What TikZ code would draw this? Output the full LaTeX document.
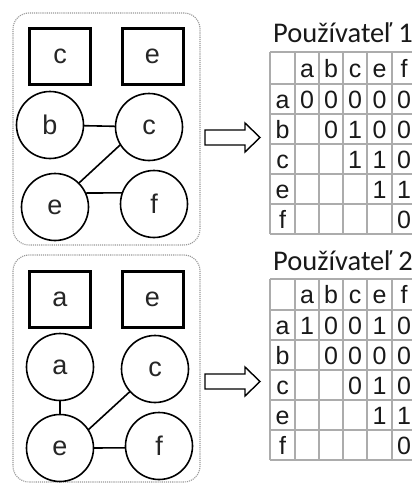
\documentclass[tikz,border=0pt]{standalone}
\usepackage{fontspec}
\setmainfont{Liberation Sans}
\newfontfamily\titlefont{Carlito}
\begin{document}
\begin{tikzpicture}[x=1pt,y=-1pt,
  circ/.style={circle,draw=black,line width=1.6pt,minimum size=67pt,inner sep=0pt,text=black!85,font=\fontsize{27}{27}\selectfont},
  sq/.style={rectangle,draw=black,line width=3pt,minimum width=61pt,minimum height=56pt,inner sep=0pt,text=black!85,font=\fontsize{27}{27}\selectfont},
  conn/.style={line width=1.6pt,shorten <=-0.5pt,shorten >=-0.5pt},
  panel/.style={draw=gray!80,densely dotted,line width=1.1pt,rounded corners=16pt},
  gridln/.style={draw=gray!65,line width=1.7pt},
  cell/.style={anchor=base,inner sep=0pt,text=black!90,font=\fontsize{25}{25}\selectfont},
  ttl/.style={anchor=base west,inner sep=0pt,text=black!90,font=\titlefont\fontsize{28.5}{28.5}\selectfont},
  bigarrow/.style={draw=black,line width=1.4pt,fill=white,line join=miter}
]
\useasboundingbox (0,0) rectangle (412,485);
\fill[white] (0,0) rectangle (412,485);

% ---------- panels ----------
\draw[panel] (13,13) rectangle (200,245);
\draw[panel] (13,255) rectangle (200,482);

% ---------- top graph ----------
\node[sq] (s1c) at (60,56.5) {c};
\node[sq] (s1e) at (152.5,56.5) {e};
\node[circ] (g1b) at (50,125) {b};
\node[circ] (g1c) at (149,127) {c};
\node[circ] (g1e) at (55,207) {e};
\node[circ] (g1f) at (154,204) {f};
\draw[conn] (g1b) -- (g1c);
\draw[conn] (g1e.45) -- (g1c.212);
\draw[conn] (g1e.24) -- (g1f.161);

% ---------- bottom graph ----------
\node[sq] (s2a) at (60,299) {a};
\node[sq] (s2e) at (152.5,299) {e};
\node[circ] (g2a) at (60,367) {a};
\node[circ] (g2c) at (155,369) {c};
\node[circ] (g2e) at (60,448) {e};
\node[circ] (g2f) at (159,446) {f};
\draw[conn] (g2a) -- (g2e);
\draw[conn] (g2e.33) -- (g2c.222);
\draw[conn] (g2e.0) -- (g2f.183);

% ---------- arrows ----------
\draw[bigarrow] (205,130) -- (245,130) -- (245,123) -- (260,137.5) -- (245,152) -- (245,145) -- (205,145) -- cycle;
\draw[bigarrow] (205,374) -- (245,374) -- (245,367) -- (260,381.5) -- (245,396) -- (245,389) -- (205,389) -- cycle;

% ---------- table 1 ----------
\node[ttl] (t1title) at (273,42) {Používateľ 1};
\foreach \x in {270,295,319,343,367,392,416} \draw[gridln] (\x,52) -- (\x,234);
\foreach \y in {52,84,114,144,174,204,234} \draw[gridln] (270,\y) -- (416,\y);
\foreach \x/\l in {307/a,331/b,355/c,379.5/e,404/f}
  \node[cell] (t1h\l) at (\x,77) {\l};
\foreach \y/\lab/\pa/\pb/\pc/\pd/\pe in {99/a/0/0/0/0/0,129/b//0/1/0/0,159/c///1/1/0,189/e////1/1,219/f/////0}{
  \node[cell] (t1\lab) at (282.5,\y+9) {\lab};
  \node[cell] (t1\lab a) at (307,\y+9) {\pa};
  \node[cell] (t1\lab b) at (331,\y+9) {\pb};
  \node[cell] (t1\lab c) at (355,\y+9) {\pc};
  \node[cell] (t1\lab e) at (379.5,\y+9) {\pd};
  \node[cell] (t1\lab f) at (404,\y+9) {\pe};
}

% ---------- table 2 ----------
\node[ttl] (t2title) at (273,270) {Používateľ 2};
\foreach \x in {270,295,319,343,367,392,416} \draw[gridln] (\x,279) -- (\x,460);
\foreach \y in {279,310,340,370,400,430,460} \draw[gridln] (270,\y) -- (416,\y);
\foreach \x/\l in {307/a,331/b,355/c,379.5/e,404/f}
  \node[cell] (t2h\l) at (\x,303.5) {\l};
\foreach \y/\lab/\pa/\pb/\pc/\pd/\pe in {325/a/1/0/0/1/0,355/b//0/0/0/0,385/c///0/1/0,415/e////1/1,445/f/////0}{
  \node[cell] (t2\lab) at (282.5,\y+9) {\lab};
  \node[cell] (t2\lab a) at (307,\y+9) {\pa};
  \node[cell] (t2\lab b) at (331,\y+9) {\pb};
  \node[cell] (t2\lab c) at (355,\y+9) {\pc};
  \node[cell] (t2\lab e) at (379.5,\y+9) {\pd};
  \node[cell] (t2\lab f) at (404,\y+9) {\pe};
}
\end{tikzpicture}
\end{document}
